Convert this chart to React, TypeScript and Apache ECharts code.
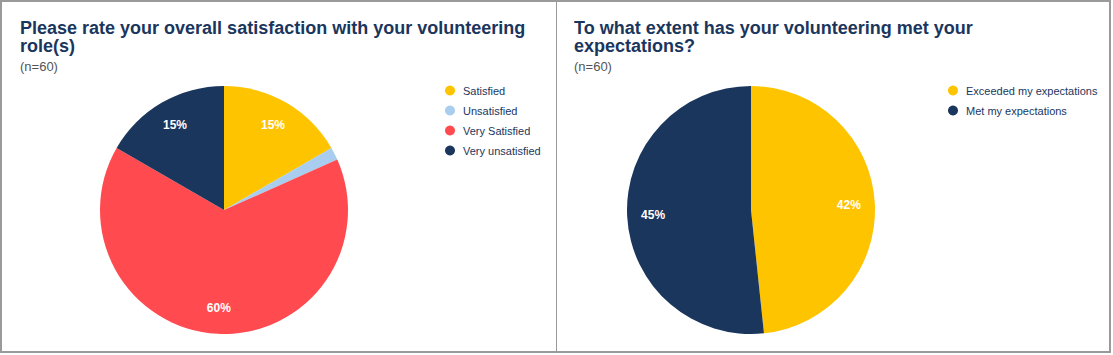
import React, { useEffect, useRef } from "react";
import * as echarts from "echarts";

const satisfactionCategories = ["Satisfied", "Unsatisfied", "Very Satisfied", "Very unsatisfied"];
const satisfactionValues = [10, 1, 39, 10];
const satisfactionLabels = ["15%", "", "60%", "15%"];
const satisfactionColors = ["#FFC400", "#A9CDEF", "#FF4B4F", "#1B365D"];

const expectationCategories = ["Exceeded my expectations", "Met my expectations"];
const expectationValues = [29, 31];
const expectationLabels = ["42%", "45%"];
const expectationColors = ["#FFC400", "#1B365D"];

const title1 = "Please rate your overall satisfaction with your volunteering\nrole(s)";
const title2 = "To what extent has your volunteering met your\nexpectations?";
const subtitle = "(n=60)";

const FONT = "'Liberation Sans', Arial, Helvetica, sans-serif";
const NAVY = "#1B365D";

function buildSeries(
  names: string[],
  values: number[],
  labels: string[],
  colors: string[],
  center: [number, number]
) {
  const main = {
    type: "pie",
    center,
    radius: [0, 124],
    startAngle: 90,
    clockwise: true,
    label: { show: false },
    labelLine: { show: false },
    emphasis: { disabled: true },
    data: names.map((n, i) => ({ name: n, value: values[i], itemStyle: { color: colors[i] } })),
  };
  const overlay = {
    type: "pie",
    center,
    radius: [66, 124],
    startAngle: 90,
    clockwise: true,
    silent: true,
    itemStyle: { color: "rgba(0,0,0,0)", borderWidth: 0 },
    labelLine: { show: false },
    emphasis: { disabled: true },
    label: {
      show: true,
      position: "inside",
      color: "#ffffff",
      fontSize: 12,
      fontWeight: "bold",
      fontFamily: FONT,
      formatter: (p: any) => labels[p.dataIndex],
    },
    data: names.map((n, i) => ({ name: n, value: values[i] })),
  };
  return [main, overlay];
}

export default function App() {
  const ref = useRef<HTMLDivElement>(null);
  useEffect(() => {
    if (!ref.current) return;
    const chart = echarts.init(ref.current, undefined, { renderer: "svg" });
    const titleStyle = {
      fontSize: 18,
      fontWeight: "bold",
      color: NAVY,
      fontFamily: FONT,
      lineHeight: 18,
    };
    const subStyle = { fontSize: 13, color: "#555555", fontFamily: FONT };
    const legendBase = {
      orient: "vertical",
      icon: "circle",
      itemWidth: 10,
      itemHeight: 10,
      itemGap: 9,
      selectedMode: false,
      textStyle: { fontSize: 11, color: NAVY, fontFamily: FONT, padding: [0, 0, 0, 3] },
    };
    chart.setOption({
      animation: false,
      backgroundColor: "#ffffff",
      title: [
        {
          text: title1,
          subtext: subtitle,
          left: 15,
          top: 14,
          itemGap: 5,
          textStyle: titleStyle,
          subtextStyle: subStyle,
        },
        {
          text: title2,
          subtext: subtitle,
          left: 569,
          top: 14,
          itemGap: 5,
          textStyle: titleStyle,
          subtextStyle: subStyle,
        },
      ],
      legend: [
        { ...legendBase, data: satisfactionCategories, left: 440, top: 80 },
        { ...legendBase, data: expectationCategories, left: 943, top: 80 },
      ],
      graphic: [
        {
          type: "rect",
          shape: { x: 1, y: 1, width: 1109, height: 351 },
          style: { fill: "none", stroke: "#9a9a9a", lineWidth: 2 },
          silent: true,
        },
        {
          type: "line",
          shape: { x1: 556.5, y1: 1, x2: 556.5, y2: 352 },
          style: { stroke: "#9a9a9a", lineWidth: 1 },
          silent: true,
        },
      ],
      series: [
        ...buildSeries(satisfactionCategories, satisfactionValues, satisfactionLabels, satisfactionColors, [224, 210]),
        ...buildSeries(expectationCategories, expectationValues, expectationLabels, expectationColors, [751, 210]),
      ],
    });
    return () => chart.dispose();
  }, []);
  return (
    <div
      ref={ref}
      style={{ position: "absolute", left: 0, top: 0, width: 1113, height: 355 }}
    />
  );
}
